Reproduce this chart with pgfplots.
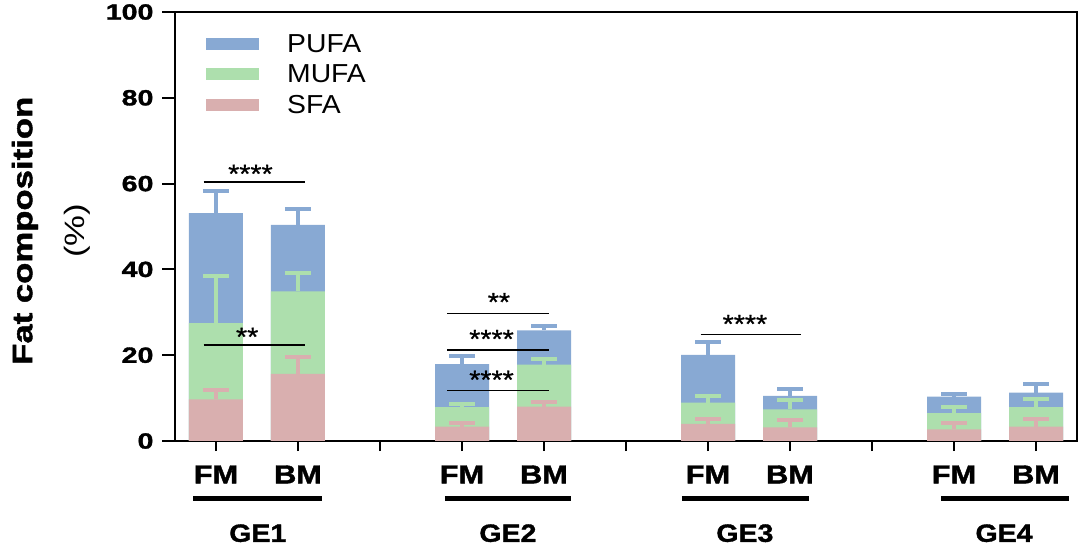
\documentclass[border=0pt]{standalone}
\usepackage{fontspec}
\setmainfont{Liberation Sans}
\newfontfamily\ytickfont[FakeStretch=1.3, BoldFeatures={FakeBold=1.5}]{Liberation Sans}
\newfontfamily\labfont[FakeStretch=1.18, BoldFeatures={FakeBold=1.5}]{Liberation Sans}
\newfontfamily\gefont[FakeStretch=1.14, BoldFeatures={FakeBold=1.5}]{Liberation Sans}
\newfontfamily\ylabfont[FakeStretch=1.24, BoldFeatures={FakeBold=1.5}]{Liberation Sans}
\newfontfamily\legfont[FakeStretch=1.09]{Liberation Sans}
\newfontfamily\astfont[FakeStretch=1.1, FakeBold=0.8]{Liberation Sans}
\usepackage{pgfplots}
\pgfplotsset{compat=1.18}
\definecolor{pufa}{HTML}{88A9D3}
\definecolor{mufa}{HTML}{ADDFAD}
\definecolor{sfa}{HTML}{D9AFAF}
\begin{document}
\begin{tikzpicture}
\begin{axis}[
  scale only axis, width=902pt, height=429pt,
  xmin=-0.5, xmax=10.5, ymin=0, ymax=100,
  clip=false,
  axis line style={line width=2pt},
  every tick/.style={black, line width=2pt},
  tick align=outside,
  major tick length=13pt,
  xtick style={/pgfplots/major tick length=10pt},
  xtick={0,1,2,3,4,5,6,7,8,9,10},
  xticklabels={FM,BM,,FM,BM,,FM,BM,,FM,BM},
  xticklabel style={font=\labfont\fontsize{26}{28}\selectfont\bfseries, yshift=-8pt},
  ytick={0,20,40,60,80,100},
  yticklabel style={font=\ytickfont\fontsize{22}{24}\selectfont\bfseries, xshift=-5pt},
  /pgf/number format/assume math mode=true,
  xtick pos=bottom, ytick pos=left,
  ylabel={\textbf{Fat composition}\\(\%)},
  every axis y label/.style={at={(axis description cs:-0.1375,0.49)}, rotate=90, anchor=center, align=center, font=\ylabfont\fontsize{28}{52}\selectfont},
  legend style={draw=none, fill=none, at={(axis description cs:0.031,0.958)}, anchor=north west, font=\legfont\fontsize{26}{28}\selectfont, row sep=7pt},
  legend cell align=left,
  /tikz/every odd column/.append style={column sep=26pt},
  legend image code/.code={\fill[#1] (0pt,-6pt) rectangle (53pt,6pt);},
]
% PUFA (cumulative top)
\addplot[ybar, bar width=54pt, bar shift=0pt, fill=pufa, draw=none,
  error bars/.cd, y dir=plus, y explicit, error mark=|,
  error bar style={line width=4pt, color=pufa},
  error mark options={line width=4pt, mark size=13pt, color=pufa}]
  coordinates {(0,53.1) +- (0,5.1) (1,50.4) +- (0,3.7) (3,17.9) +- (0,1.8) (4,25.8) +- (0,0.9)
               (6,20.1) +- (0,3.0) (7,10.5) +- (0,1.6) (9,10.35) +- (0,0.65) (10,11.3) +- (0,2.0)};
\addlegendentry{PUFA}
% MUFA
\addplot[ybar, bar width=54pt, bar shift=0pt, fill=mufa, draw=none,
  error bars/.cd, y dir=plus, y explicit, error mark=|,
  error bar style={line width=4pt, color=mufa},
  error mark options={line width=4pt, mark size=13pt, color=mufa}]
  coordinates {(0,27.5) +- (0,10.9) (1,34.9) +- (0,4.3) (3,7.9) +- (0,0.7) (4,17.8) +- (0,1.3)
               (6,8.95) +- (0,1.45) (7,7.4) +- (0,2.2) (9,6.5) +- (0,1.5) (10,7.9) +- (0,1.8)};
\addlegendentry{MUFA}
% SFA
\addplot[ybar, bar width=54pt, bar shift=0pt, fill=sfa, draw=none,
  error bars/.cd, y dir=plus, y explicit, error mark=|,
  error bar style={line width=4pt, color=sfa},
  error mark options={line width=4pt, mark size=13pt, color=sfa}]
  coordinates {(0,9.7) +- (0,2.1) (1,15.65) +- (0,3.85) (3,3.35) +- (0,0.75) (4,8.0) +- (0,1.0)
               (6,4.0) +- (0,1.1) (7,3.2) +- (0,1.7) (9,2.7) +- (0,1.4) (10,3.35) +- (0,1.85)};
\addlegendentry{SFA}
% significance lines
\tikzset{ast/.style={font=\astfont\fontsize{26}{28}\selectfont}}
\draw[line width=1.3pt] (axis cs:-0.15,60.4) -- (axis cs:1.087,60.4);
\node[ast] at (axis cs:0.42,62.3) {****};
\draw[line width=1.3pt] (axis cs:-0.15,22.4) -- (axis cs:1.087,22.4);
\node[ast] at (axis cs:0.38,24.3) {**};
\draw[line width=1.3pt] (axis cs:2.82,29.8) -- (axis cs:4.06,29.8);
\node[ast] at (axis cs:3.45,32.4) {**};
\draw[line width=1.3pt] (axis cs:2.82,21.2) -- (axis cs:4.06,21.2);
\node[ast] at (axis cs:3.36,23.8) {****};
\draw[line width=1.3pt] (axis cs:2.82,11.7) -- (axis cs:4.06,11.7);
\node[ast] at (axis cs:3.36,14.3) {****};
\draw[line width=1.3pt] (axis cs:5.91,24.9) -- (axis cs:7.14,24.9);
\node[ast] at (axis cs:6.45,27.3) {****};
% group lines and labels
\draw[line width=5pt] (axis cs:-0.276,-13.3) -- (axis cs:1.294,-13.3);
\draw[line width=5pt] (axis cs:2.79,-13.3) -- (axis cs:4.33,-13.3);
\draw[line width=5pt] (axis cs:5.68,-13.3) -- (axis cs:7.23,-13.3);
\draw[line width=5pt] (axis cs:8.845,-13.3) -- (axis cs:10.40,-13.3);
\tikzset{ge/.style={font=\gefont\fontsize{25}{27}\selectfont\bfseries, inner sep=0pt}}
\node[ge] at (axis cs:0.51,-21.5) {GE1};
\node[ge] at (axis cs:3.56,-21.5) {GE2};
\node[ge] at (axis cs:6.45,-21.5) {GE3};
\node[ge] at (axis cs:9.61,-21.5) {GE4};
\end{axis}
\pgfresetboundingbox
\path ([shift={(-175pt,-104pt)}]current axis.south west) rectangle ([shift={(7pt,12pt)}]current axis.north east);
\end{tikzpicture}
\end{document}
